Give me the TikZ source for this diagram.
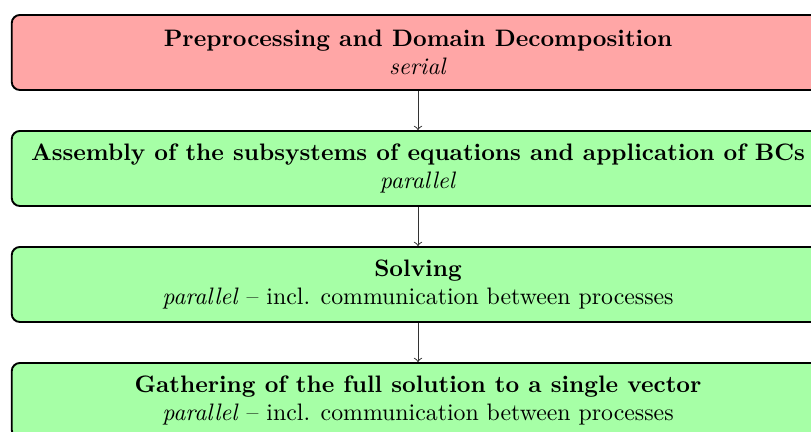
\documentclass[tikz,border=0pt]{standalone}
\usetikzlibrary{positioning}
\begin{document}
\begin{tikzpicture}[x=0.42pt,y=-0.42pt,
  stagebox/.style={draw=black, line width=0.8pt, rounded corners=3.4pt, align=center,
    minimum width=812.5*0.42pt, minimum height=75*0.42pt, inner sep=0pt, font=\normalsize},
  serialbox/.style={stagebox, fill=red!35},
  parbox/.style={stagebox, fill=green!35},
  flow/.style={->, line width=0.4pt, black!80}]
\useasboundingbox (0,0) rectangle (811,432);
\clip (0,0) rectangle (811,432);
\node[serialbox] (pre) at (418,52.5) {\textbf{Preprocessing and Domain Decomposition}\\ \textit{serial}};
\node[parbox] (asm) at (418,168.5) {\textbf{Assembly of the subsystems of equations and application of BCs}\\ \textit{parallel}};
\node[parbox] (sol) at (418,284.5) {\textbf{Solving}\\ \textit{parallel} -- incl. communication between processes};
\node[parbox] (gat) at (418,400.5) {\textbf{Gathering of the full solution to a single vector}\\ \textit{parallel} -- incl. communication between processes};
\draw[flow] (pre) -- (asm);
\draw[flow] (asm) -- (sol);
\draw[flow] (sol) -- (gat);
\end{tikzpicture}
\end{document}
